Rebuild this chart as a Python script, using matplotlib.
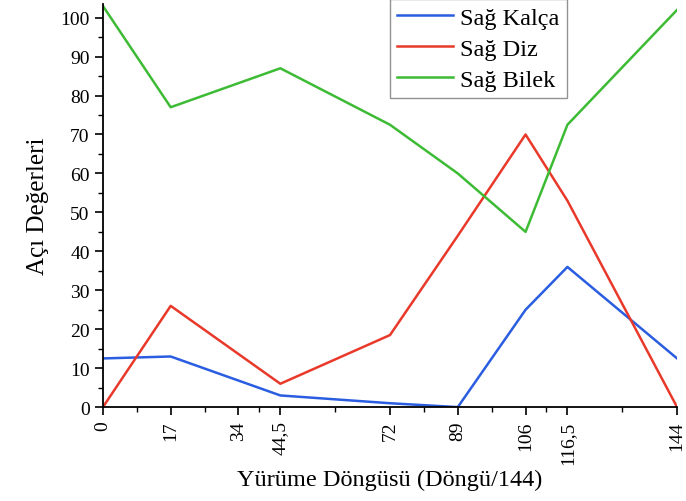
import matplotlib
matplotlib.use("Agg")
import matplotlib.pyplot as plt
from matplotlib.ticker import FixedLocator

# Yürüme döngüsü noktaları
dongu = [0, 17, 44.5, 72, 89, 106, 116.5, 144]
kalca = [12.5, 13, 3, 1, 0, 25, 36, 12.5]
diz = [0, 26, 6, 18.5, 44, 70, 53, 0]
bilek = [103, 77, 87, 72.5, 60, 45, 72.5, 102]

tick_degerleri = [0, 17, 34, 44.5, 72, 89, 106, 116.5, 144]
tick_etiketleri = ["0", "17", "34", "44,5", "72", "89", "106", "116,5", "144"]

plt.rcParams["font.family"] = ["Liberation Serif", "DejaVu Serif"]

fig = plt.figure(figsize=(6.86, 5.02), dpi=100)
ax = fig.add_axes([0.150, 0.187, 0.837, 0.803])

ax.plot(dongu, kalca, color="#2a5de0", linewidth=1.8, label="Sağ Kalça")
ax.plot(dongu, diz, color="#e8392a", linewidth=1.8, label="Sağ Diz")
ax.plot(dongu, bilek, color="#3dbb35", linewidth=1.8, label="Sağ Bilek")

ax.set_xlim(0, 144)
ax.set_ylim(0, 103.5)

ax.set_xticks(tick_degerleri)
ax.set_xticklabels(tick_etiketleri, rotation=90)
ara = [(a + b) / 2 for a, b in zip(tick_degerleri[:-1], tick_degerleri[1:])]
ax.xaxis.set_minor_locator(FixedLocator(ara))
ax.set_yticks(range(0, 101, 10))
ax.yaxis.set_minor_locator(FixedLocator(range(5, 101, 10)))

ax.tick_params(axis="both", which="major", labelsize=14, length=6, width=1.2)
ax.tick_params(axis="both", which="minor", length=3.5, width=1.0)

for lado in ["top", "right"]:
    ax.spines[lado].set_visible(False)
for lado in ["left", "bottom"]:
    ax.spines[lado].set_linewidth(1.3)

ax.set_xlabel("Yürüme Döngüsü (Döngü/144)", fontsize=17.5, labelpad=4)
ax.set_ylabel("Açı Değerleri", fontsize=18, labelpad=8)

leg = ax.legend(loc="upper right", bbox_to_anchor=(0.808, 1.012), fontsize=17.5,
                frameon=True, fancybox=False, edgecolor="#777777",
                handlelength=2.3, handletextpad=0.26, borderpad=0.32,
                labelspacing=0.36, borderaxespad=0)
leg.get_frame().set_linewidth(1.0)

fig.savefig("out.png", dpi=100)
